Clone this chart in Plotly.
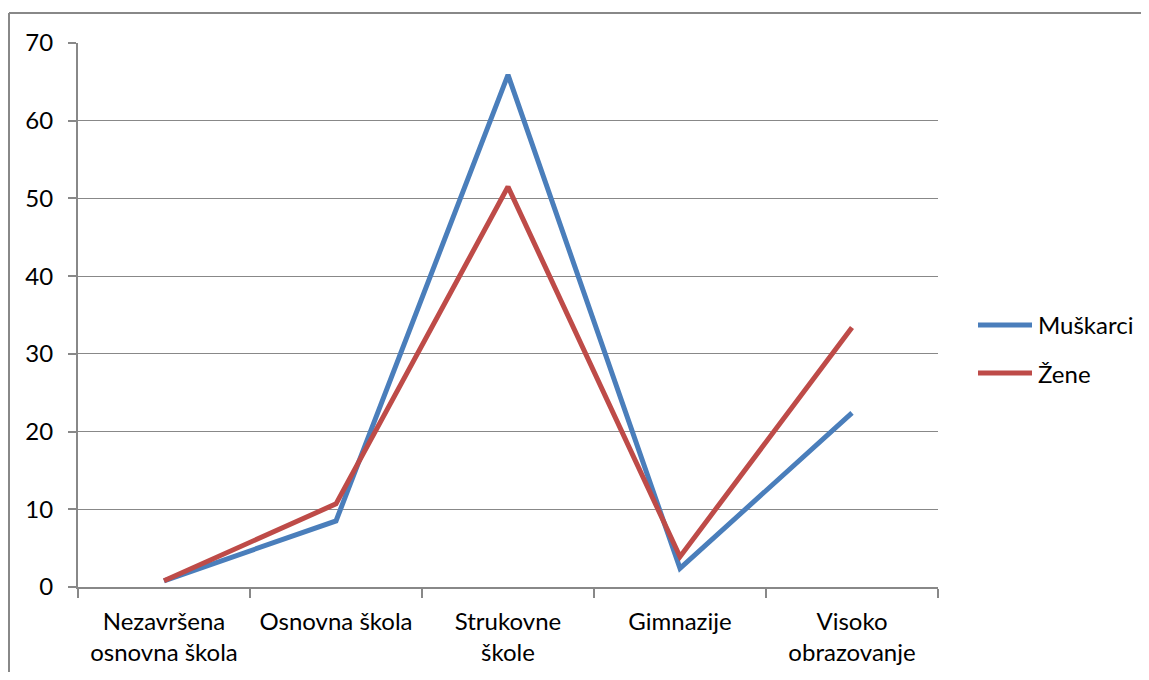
import plotly.graph_objects as go

categories = ["Nezavršena<br>osnovna škola", "Osnovna škola", "Strukovne<br>škole", "Gimnazije", "Visoko<br>obrazovanje"]
muskarci = [0.8, 8.5, 65.9, 2.4, 22.4]
zene = [0.8, 10.7, 51.5, 3.9, 33.4]
series_names = ["Muškarci", "Žene"]
series_colors = ["#4A7EBB", "#BE4B48"]
y_ticks = [0, 10, 20, 30, 40, 50, 60, 70]

FONT = "Lato"
FS = 24
W, H = 1133, 664
L, T, R, B = 70, 35, 203, 85
PW, PH = W - L - R, H - T - B


def px(x):
    return (x - L) / PW


def py(y):
    return (T + PH - y) / PH


fig = go.Figure()
for name, vals, col in zip(series_names, [muskarci, zene], series_colors):
    fig.add_trace(go.Scatter(x=categories, y=vals, mode="lines", name=name,
                             line=dict(color=col, width=5), showlegend=False))

shapes = [
    dict(type="line", xref="paper", yref="paper", x0=px(1), x1=px(W + 20),
         y0=py(5), y1=py(5), line=dict(color="#888888", width=2), layer="below"),
    dict(type="line", xref="paper", yref="paper", x0=px(1), x1=px(1),
         y0=py(5), y1=py(H + 20), line=dict(color="#888888", width=2), layer="below"),
]
annotations = []
for i, (name, col) in enumerate(zip(series_names, series_colors)):
    yy = 317 + 48 * i
    shapes.append(dict(type="line", xref="paper", yref="paper", x0=px(970), x1=px(1024),
                       y0=py(yy), y1=py(yy), line=dict(color=col, width=5)))
    annotations.append(dict(xref="paper", yref="paper", x=px(1028), y=py(yy),
                            xanchor="left", yanchor="middle", text=name, showarrow=False,
                            font=dict(size=FS, family=FONT, color="#000000")))

fig.update_layout(
    width=W, height=H,
    margin=dict(l=L, r=R, t=T, b=B, autoexpand=False),
    paper_bgcolor="white", plot_bgcolor="white",
    font=dict(family=FONT, size=FS, color="#000000"),
    showlegend=False,
    xaxis=dict(type="category", tickson="boundaries", showgrid=False,
               showline=True, linecolor="#888888", linewidth=2,
               ticks="outside", ticklen=9, tickcolor="#888888", tickwidth=2,
               range=[-0.5, 4.5], tickfont=dict(size=FS, family=FONT),
               ticklabelstandoff=12, automargin=False),
    yaxis=dict(range=[0, 70], tickvals=y_ticks, showgrid=True, gridcolor="#888888",
               gridwidth=1, showline=True, linecolor="#888888", linewidth=2,
               ticks="outside", ticklen=8, tickcolor="#888888", tickwidth=2,
               zeroline=False, tickfont=dict(size=FS, family=FONT),
               ticklabelstandoff=10, automargin=False),
    shapes=shapes,
    annotations=annotations,
)
fig.write_html("out.html")
